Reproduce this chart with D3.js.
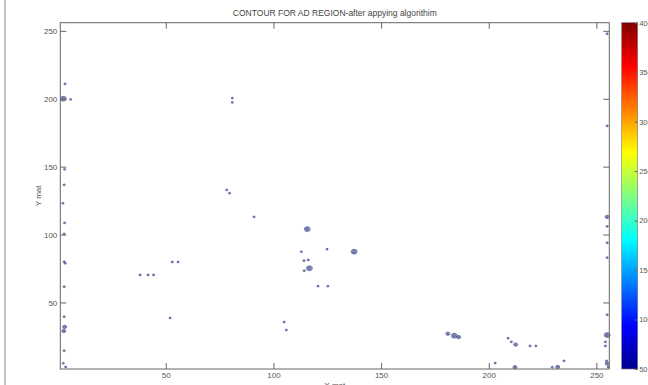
<!DOCTYPE html>
<html>
<head>
<meta charset="utf-8">
<script src="https://cdn.jsdelivr.net/npm/d3@7"></script>
<style>
  body { margin: 0; background: #fff; }
  svg { display: block; font-family: "Liberation Sans", Arial, sans-serif; }
  .axis path { display: none; }
  .axis line { stroke: #666; }
  .axis text { fill: #555; font-size: 8px; }
</style>
</head>
<body>
<div id="chart"></div>
<script>
// contour loops (x mat, y mat, number of nested levels)
var ctrX = [2.4, 5.8, 3.2, 3, 2.8, 2.2, 3, 2.8, 2.8, 3.3, 2.8, 2.8, 3, 2.6, 2.8, 2.4, 3.5,
            80.9, 80.9, 78.3, 79.6, 91, 115.7, 113, 124.9, 137.5, 114.2, 116.2, 116.7, 114.3,
            38.1, 41.8, 44.3, 53, 55.7, 52, 105, 106, 120.7, 125.3,
            181, 184, 186, 209, 210.5, 212.5, 219.2, 221.9, 203, 212.2, 229.5, 232, 235,
            255, 255, 255, 255, 255, 255, 255, 255, 254.2, 254.2, 254.7, 255, 255.5];
var ctrY = [200, 199.5, 211, 148, 136.6, 123, 108.6, 100.5, 80, 78.8, 61.6, 39.5, 32, 29, 14.5, 5.2, 2.5,
            200.5, 197.3, 132.9, 130.5, 113, 104, 87.4, 89.2, 87.4, 80.8, 81.3, 75.2, 73.4,
            70.3, 70.3, 70.3, 79.8, 79.8, 38.6, 35.6, 29.7, 62, 62,
            27, 25.5, 24.5, 23.6, 21, 19, 18, 18, 5.4, 2.3, 2.3, 2.5, 7,
            247.9, 180, 113, 106, 94, 83, 41, 26, 21, 18, 7, 5, 2.5];
var ctrLevels = [3, 1, 1, 1, 1, 1, 1, 1, 1, 1, 1, 1, 2, 2, 1, 1, 1,
                 1, 1, 1, 1, 1, 3, 1, 1, 3, 1, 1, 3, 1,
                 1, 1, 1, 1, 1, 1, 1, 1, 1, 1,
                 2, 3, 2, 1, 1, 2, 1, 1, 1, 2, 1, 2, 1,
                 1, 1, 2, 1, 1, 1, 1, 3, 1, 1, 1, 2, 1];

var xTicks = [50, 100, 150, 200, 250];
var yTicks = [50, 100, 150, 200, 250];
var cbTicks = [50, 100, 150, 200, 250, 300, 350, 400];
var jetColors = ["#00008f", "#0000ff", "#00ffff", "#ffff00", "#ff0000", "#800000"];
var jetStops = [0, 0.125, 0.375, 0.625, 0.875, 1];

var width = 648, height = 385;
var margin = {top: 22.7, right: 38.7, bottom: 16, left: 60.3};

var svg = d3.select('#chart').append('svg')
    .attr('width', width)
    .attr('height', height);

// light frame line on the left of the figure
svg.append('line')
    .attr('x1', 5).attr('x2', 5)
    .attr('y1', 0).attr('y2', height)
    .attr('stroke', '#c4c4c4')
    .attr('stroke-width', 2);

var x = d3.scaleLinear()
    .domain([1, 256])
    .range([margin.left, width - margin.right]);

var y = d3.scaleLinear()
    .domain([1, 256])
    .range([height - margin.bottom, margin.top]);

var ringR = d3.scaleLinear().domain([1, 3]).range([1.1, 3]);

svg.append('text')
    .attr('x', (x.range()[0] + x.range()[1]) / 2)
    .attr('y', 16)
    .attr('text-anchor', 'middle')
    .attr('fill', '#444')
    .style('font-size', '8.5px')
    .text('CONTOUR FOR AD REGION-after appying algorithim');

// contours
var contours = ctrX.map(function(d, i) { return {x: d, y: ctrY[i], n: ctrLevels[i]}; });

var blob = svg.append('g').attr('class', 'contours')
  .selectAll('g')
  .data(contours)
  .enter().append('g')
    .attr('transform', function(d) { return 'translate(' + x(d.x) + ',' + y(d.y) + ')'; });

blob.selectAll('ellipse')
  .data(function(d) { return d3.range(1, d.n + 1); })
  .enter().append('ellipse')
    .attr('rx', function(k) { return ringR(k); })
    .attr('ry', function(k) { return ringR(k) * 0.8; })
    .attr('fill', function(k) { return k == 1 ? 'rgba(35,45,120,0.4)' : 'none'; })
    .attr('stroke', '#27327e')
    .attr('stroke-opacity', 0.8)
    .attr('stroke-width', 0.8);

// axes, MATLAB style: inward ticks, mirrored
svg.append('g')
    .attr('class', 'axis')
    .attr('transform', 'translate(0,' + y.range()[0] + ')')
    .call(d3.axisBottom(x).tickValues(xTicks).tickSizeInner(-6).tickSizeOuter(0).tickPadding(3));

svg.append('g')
    .attr('class', 'axis')
    .attr('transform', 'translate(0,' + y.range()[1] + ')')
    .call(d3.axisTop(x).tickValues(xTicks).tickSizeInner(-6).tickSizeOuter(0).tickFormat(''));

svg.append('g')
    .attr('class', 'axis')
    .attr('transform', 'translate(' + x.range()[0] + ',0)')
    .call(d3.axisLeft(y).tickValues(yTicks).tickSizeInner(-6).tickSizeOuter(0).tickPadding(3));

svg.append('g')
    .attr('class', 'axis')
    .attr('transform', 'translate(' + x.range()[1] + ',0)')
    .call(d3.axisRight(y).tickValues(yTicks).tickSizeInner(-6).tickSizeOuter(0).tickFormat(''));

svg.append('rect')
    .attr('x', x.range()[0])
    .attr('y', y.range()[1])
    .attr('width', x.range()[1] - x.range()[0])
    .attr('height', y.range()[0] - y.range()[1])
    .attr('fill', 'none')
    .attr('stroke', '#666')
    .attr('stroke-width', 1);

svg.append('text')
    .attr('transform', 'translate(41,' + (y.range()[0] + y.range()[1]) / 2 + ') rotate(-90)')
    .attr('text-anchor', 'middle')
    .attr('fill', '#555')
    .style('font-size', '8px')
    .text('Y mat');

svg.append('text')
    .attr('x', (x.range()[0] + x.range()[1]) / 2)
    .attr('y', 388)
    .attr('text-anchor', 'middle')
    .attr('fill', '#555')
    .style('font-size', '8px')
    .text('X mat');

// colorbar
var cbX = 621.7, cbW = 16;
var cb = d3.scaleLinear()
    .domain([50, 400])
    .range([y.range()[0], y.range()[1]]);

var grad = svg.append('defs').append('linearGradient')
    .attr('id', 'jet')
    .attr('x1', 0).attr('y1', 1)
    .attr('x2', 0).attr('y2', 0);

grad.selectAll('stop')
  .data(jetStops)
  .enter().append('stop')
    .attr('offset', function(d) { return d; })
    .attr('stop-color', function(d, i) { return jetColors[i]; });

svg.append('rect')
    .attr('x', cbX)
    .attr('y', cb.range()[1])
    .attr('width', cbW)
    .attr('height', cb.range()[0] - cb.range()[1])
    .attr('fill', 'url(#jet)')
    .attr('stroke', '#777')
    .attr('stroke-width', 0.6);

var cbAxis = svg.append('g')
    .attr('class', 'axis')
    .attr('transform', 'translate(' + (cbX + cbW) + ',0)')
    .call(d3.axisRight(cb).tickValues(cbTicks).tickSizeInner(-3).tickSizeOuter(0).tickPadding(1.5));

cbAxis.selectAll('text').style('font-size', '7.5px');
</script>
</body>
</html>
